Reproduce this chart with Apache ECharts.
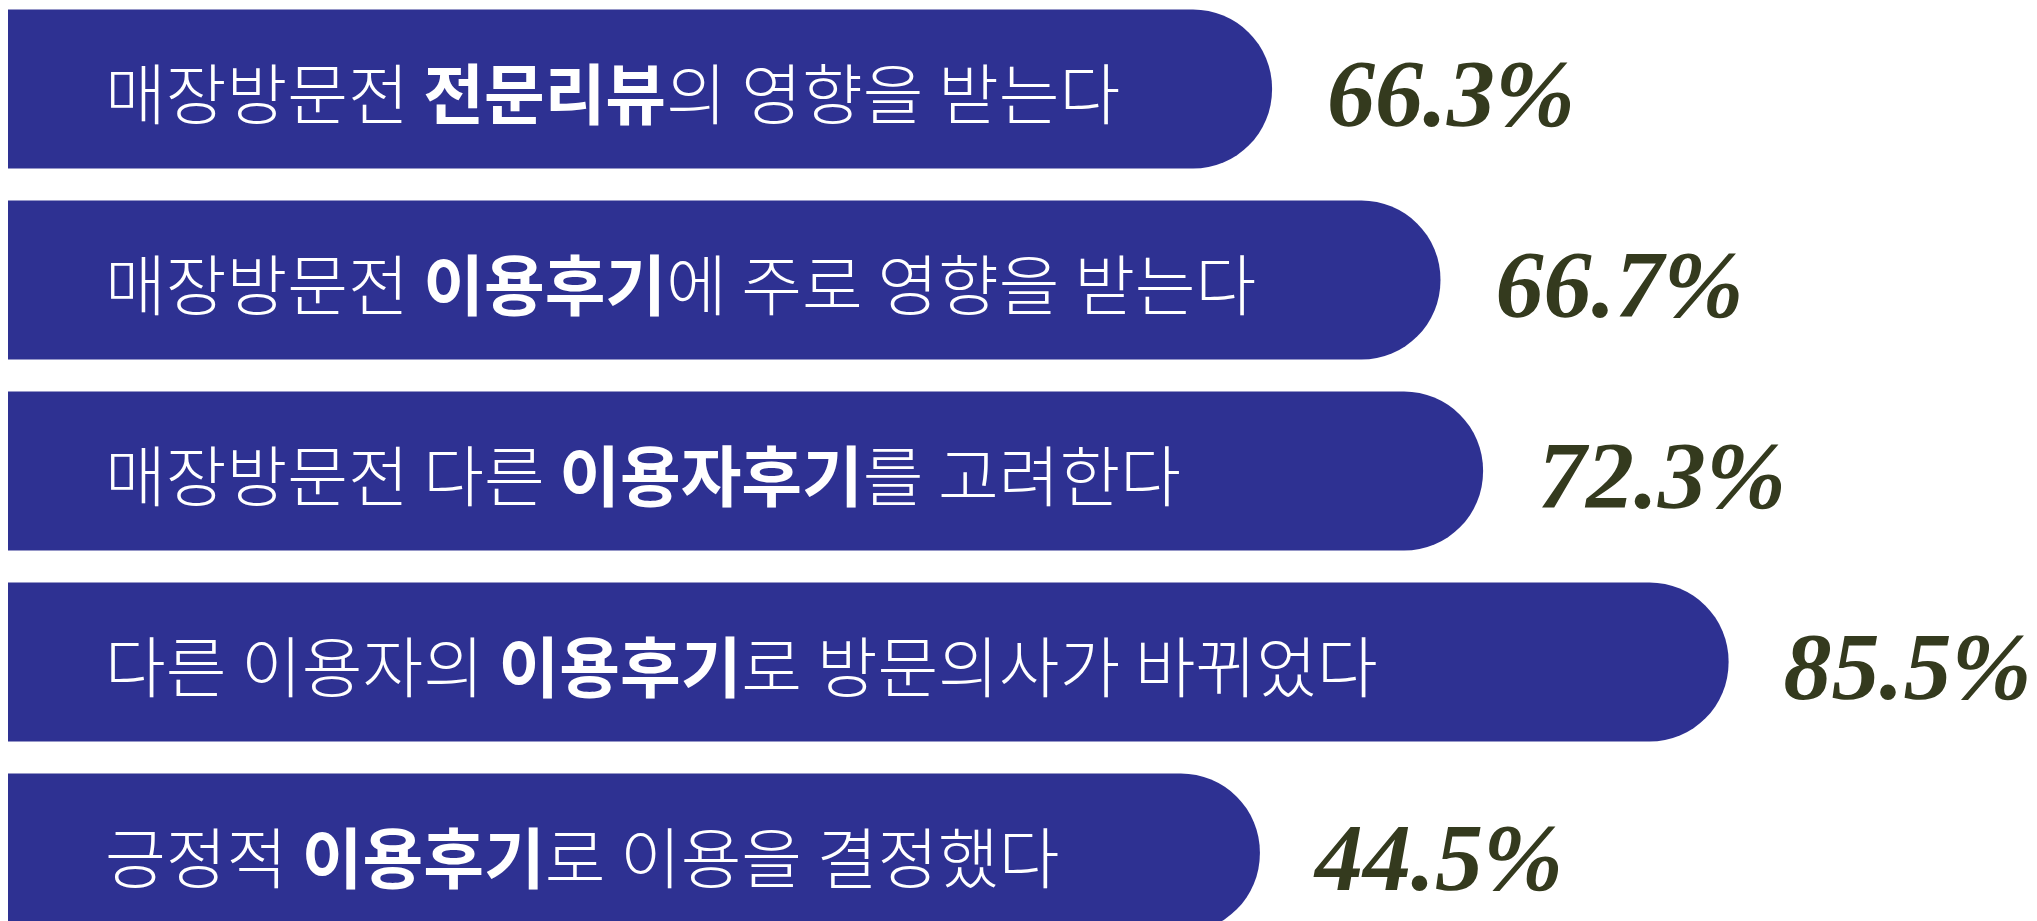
<!DOCTYPE html>
<html>
<head>
<meta charset="utf-8">
<style>
  html, body { margin: 0; padding: 0; background: #ffffff; }
  #chart { width: 2037px; height: 921px; }
</style>
<script src="https://cdn.jsdelivr.net/npm/echarts@6/dist/echarts.min.js"></script>
</head>
<body>
<div id="chart"></div>
<script>
// Statement text split into plain prefix, bold keyword and plain suffix
const textBefore = ['매장방문전 ', '매장방문전 ', '매장방문전 다른 ', '다른 이용자의 ', '긍정적 '];
const textBold   = ['전문리뷰', '이용후기', '이용자후기', '이용후기', '이용후기'];
const textAfter  = ['의 영향을 받는다', '에 주로 영향을 받는다', '를 고려한다', '로 방문의사가 바뀌었다', '로 이용을 결정했다'];
// Percent shown beside each bar
const percentValues = [66.3, 66.7, 72.3, 85.5, 44.5];
// Drawn bar length (as it appears in the infographic, on a 0–100 scale)
const barLength = [62.3, 70.6, 72.7, 84.8, 61.7];

const categories = textBold.map((b, i) => textBefore[i] + b + textAfter[i]);

const chart = echarts.init(document.getElementById('chart'), null, { renderer: 'canvas' });

const option = {
  backgroundColor: '#ffffff',
  animation: false,
  grid: { left: 8, right: 0, top: -6.5, height: 955, containLabel: false, outerBoundsMode: 'none' },
  xAxis: { type: 'value', min: 0, max: 100, show: false },
  yAxis: { type: 'category', data: categories, inverse: true, show: false },
  series: [
    {
      type: 'bar',
      data: barLength,
      barWidth: 159,
      itemStyle: { color: '#2E3192', borderRadius: [0, 79, 79, 0] },
      label: {
        show: true,
        position: 'insideLeft',
        distance: 97,
        offset: [0, 5],
        formatter: p => textBefore[p.dataIndex] + '{b|' + textBold[p.dataIndex] + '}' + textAfter[p.dataIndex],
        color: '#ffffff',
        fontFamily: 'Noto Sans CJK KR',
        fontSize: 66,
        fontWeight: 300,
        rich: {
          b: { color: '#ffffff', fontFamily: 'Noto Sans CJK KR', fontSize: 66, fontWeight: 'bold' }
        }
      },
      z: 2
    },
    {
      type: 'bar',
      data: barLength,
      barWidth: 159,
      barGap: '-100%',
      itemStyle: { color: 'rgba(0,0,0,0)' },
      label: {
        show: true,
        position: 'right',
        distance: 55,
        offset: [0, 12],
        formatter: p => percentValues[p.dataIndex].toFixed(1) + '%',
        color: '#343A1E',
        fontFamily: 'Liberation Serif',
        fontStyle: 'italic',
        fontWeight: 'bold',
        fontSize: 96
      },
      z: 3,
      silent: true
    }
  ]
};
chart.setOption(option);
</script>
</body>
</html>
